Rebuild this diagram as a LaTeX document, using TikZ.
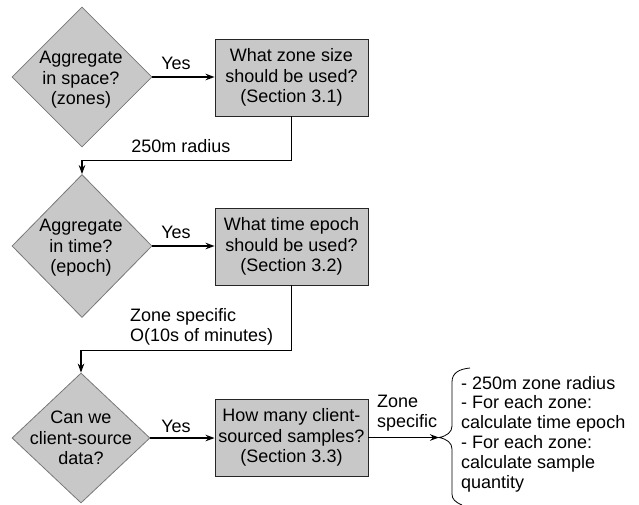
\documentclass[tikz,border=0pt]{standalone}
\usepackage{fontspec}
\setmainfont{Liberation Sans}
\usetikzlibrary{shapes.geometric,arrows.meta}
\definecolor{shade}{RGB}{200,200,200}
\definecolor{rim}{RGB}{120,120,120}
\begin{document}
\begin{tikzpicture}[x=1pt,y=-1pt,
  every node/.style={font=\fontsize{18}{20.5}\selectfont},
  decision/.style={diamond, draw=rim, fill=shade, inner sep=0pt, line width=0.8pt},
  query/.style={rectangle, draw=black!85, fill=shade, minimum width=153pt,
    minimum height=77pt, align=center, inner sep=0pt, line width=0.9pt},
  flow/.style={line width=1.7pt, -{Stealth[length=9pt,width=6.5pt]}},
  lbl/.style={inner sep=0pt, align=left},
  note/.style={inner sep=0pt, align=left, font=\fontsize{18}{19.8}\selectfont}
]
\useasboundingbox (0,0) rectangle (639,504);

% first decision: spatial aggregation
\node[decision, minimum width=140pt, minimum height=140pt] (d1) at (82,77) {};
\node[align=center, inner sep=0pt] (t1) at (81,80) {Aggregate\\in space?\\(zones)};
\node[query] (b1) at (291.5,77.5) {What zone size\\should be used?\\(Section 3.1)};
\node (y1) at (176,63) {Yes};
\draw[flow] (d1.east) -- (d1.east -| b1.west);

% second decision: temporal aggregation
\node[decision, minimum width=140pt, minimum height=143pt] (d2) at (82,246) {};
\node[align=center, inner sep=0pt] (t2) at (81,248) {Aggregate\\in time?\\(epoch)};
\node[query] (b2) at (291.5,246.5) {What time epoch\\should be used?\\(Section 3.2)};
\node (y2) at (176,232) {Yes};
\draw[flow] (d2.east) -- (d2.east -| b2.west);

\draw[flow] (b1.south) -- ++(0,44) -| (d2.north);
\node[lbl] (r1) at (181,146) {250m radius};

% third decision: client-sourced data
\node[decision, minimum width=138pt, minimum height=130pt] (d3) at (81,438) {};
\node[align=center, inner sep=0pt] (t3) at (81,438) {Can we\\client-source\\data?};
\node[query] (b3) at (291.5,437.5) {How many client-\\sourced samples?\\(Section 3.3)};
\node (y3) at (176,426) {Yes};
\draw[flow] (d3.east) -- (d3.east -| b3.west);

\draw[flow] (b2.south) -- ++(0,65) -| (d3.north);
\node[lbl, anchor=west, font=\fontsize{18}{19.5}\selectfont] (r2) at (130,327)
  {Zone specific\\O(10s of minutes)};

% outcome brace
\coordinate (tip) at (439,437.5);
\draw[line width=0.8pt] (470,368) .. controls (459,369) and (452,373) .. (452,382)
  -- (452,426) .. controls (452,432) and (447,436) .. (tip)
  .. controls (447,439) and (452,443) .. (452,449)
  -- (452,494) .. controls (452,499) and (455,502) .. (462,505);
\draw[flow] (b3.east) -- (tip);
\node[lbl, anchor=west, font=\fontsize{18}{19.5}\selectfont] (r3) at (377,413) {Zone\\specific};
\node[note, anchor=west] (out) at (461,434)
  {- 250m zone radius\\- For each zone:\\calculate time epoch\\- For each zone:\\calculate sample\\quantity};
\end{tikzpicture}
\end{document}
